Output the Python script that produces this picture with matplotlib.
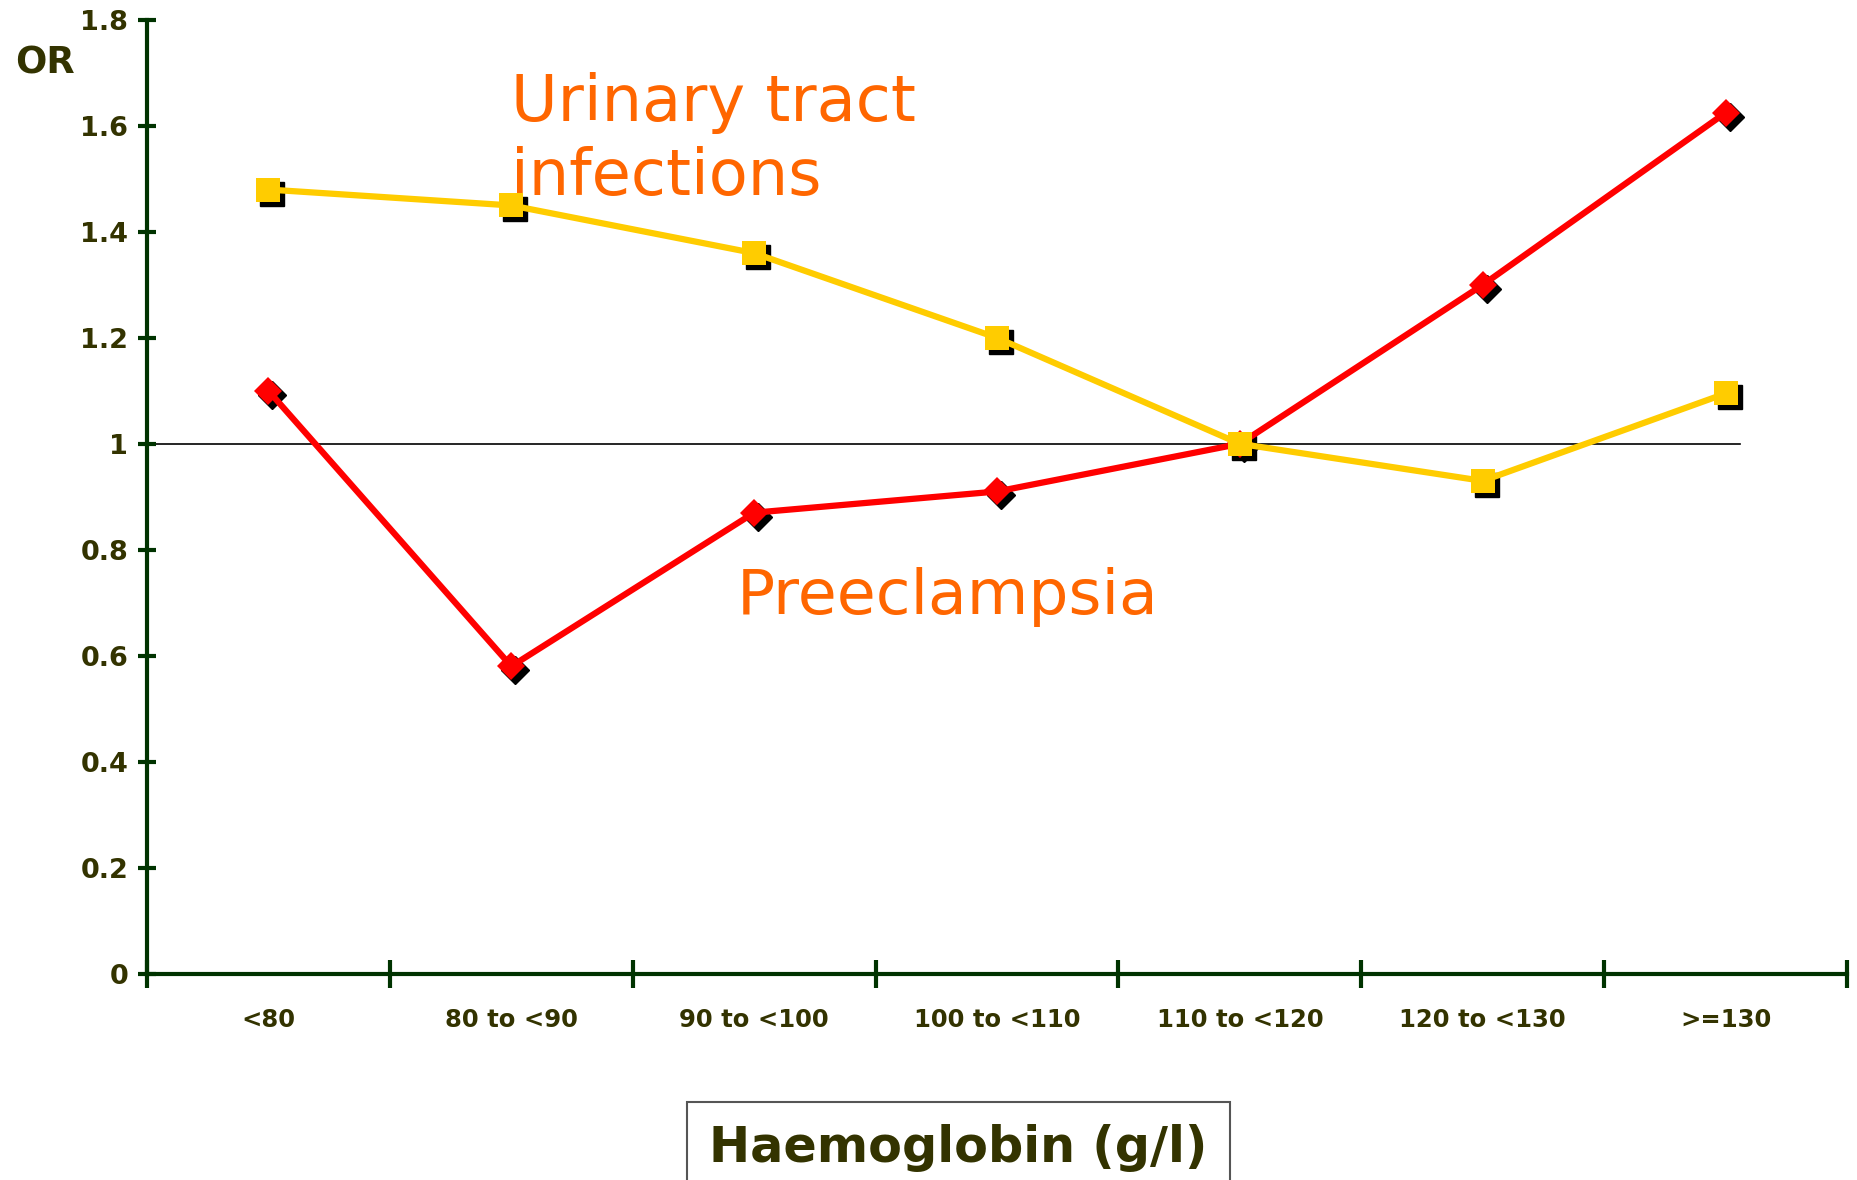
import matplotlib
matplotlib.use("Agg")
import matplotlib.pyplot as plt
import matplotlib.transforms as mtransforms

categories = ["<80", "80 to <90", "90 to <100", "100 to <110",
              "110 to <120", "120 to <130", ">=130"]
uti_or = [1.48, 1.45, 1.36, 1.20, 1.00, 0.93, 1.095]
preeclampsia_or = [1.10, 0.58, 0.87, 0.91, 1.00, 1.30, 1.625]
y_ticks = [0, 0.2, 0.4, 0.6, 0.8, 1, 1.2, 1.4, 1.6, 1.8]
y_ticklabels = ["0", "0.2", "0.4", "0.6", "0.8", "1", "1.2", "1.4", "1.6", "1.8"]

AXIS = "#003300"
LABEL = "#333300"
YELLOW = "#FFCC00"
RED = "#FF0000"
ORANGE = "#FF6600"

plt.rcParams["font.family"] = "DejaVu Sans"
fig = plt.figure(figsize=(18.57, 11.8), dpi=100)
ax = fig.add_axes([0.0792, 0.175, 0.9154, 0.808])

x = list(range(len(categories)))
shadow = mtransforms.offset_copy(ax.transData, fig=fig, x=4, y=-4, units="dots")

# reference line at OR = 1
ax.axhline(1, xmin=0, xmax=0.937, color="black", linewidth=1.2, zorder=1)

# shadows behind the markers
ax.plot(x, uti_or, linestyle="none", marker="s", markersize=17,
        color="black", transform=shadow, zorder=2)
ax.plot(x, preeclampsia_or, linestyle="none", marker="D", markersize=14,
        color="black", transform=shadow, zorder=2)

ax.plot(x, preeclampsia_or, color=RED, linewidth=4.5, marker="D",
        markersize=14, markeredgewidth=0, zorder=3)
ax.plot(x, uti_or, color=YELLOW, linewidth=4.5, marker="s",
        markersize=17, markeredgewidth=0, zorder=4)

ax.text(1.0, 1.61, "Urinary tract", color=ORANGE, fontsize=46,
        ha="left", va="baseline")
ax.text(1.0, 1.469, "infections", color=ORANGE, fontsize=46,
        ha="left", va="baseline")
ax.text(1.93, 0.678, "Preeclampsia", color=ORANGE, fontsize=45.5,
        ha="left", va="baseline")

ax.set_xlim(-0.5, 6.5)
ax.set_ylim(0, 1.8)
ax.set_yticks(y_ticks)
ax.set_yticklabels(y_ticklabels)
ax.set_xticks([i - 0.5 for i in range(len(categories) + 1)])
ax.set_xticklabels([])
ax.set_xticks(x, minor=True)
ax.set_xticklabels(categories, minor=True)

for side in ("top", "right"):
    ax.spines[side].set_visible(False)
for side in ("left", "bottom"):
    ax.spines[side].set_color(AXIS)
    ax.spines[side].set_linewidth(3)

ax.tick_params(axis="y", direction="inout", length=13, width=3,
               color=AXIS, labelcolor=LABEL, labelsize=19.5, pad=7)
for lbl in ax.get_yticklabels():
    lbl.set_fontweight("bold")
ax.tick_params(axis="x", which="major", direction="inout", length=20,
               width=3, color=AXIS)
ax.tick_params(axis="x", which="minor", length=0, pad=25,
               labelcolor=LABEL, labelsize=17.5)
for lbl in ax.get_xticklabels(minor=True):
    lbl.set_fontweight("bold")

fig.text(0.008, 0.947, "OR", fontsize=26.5, fontweight="bold",
         color=LABEL, ha="left", va="center")
fig.text(0.516, 0.027, "Haemoglobin (g/l)", fontsize=35.5, fontweight="bold",
         color=LABEL, ha="center", va="center",
         bbox=dict(boxstyle="square,pad=0.45", facecolor="white",
                   edgecolor="#555555", linewidth=1.5))

fig.savefig("out.png", dpi=100)
